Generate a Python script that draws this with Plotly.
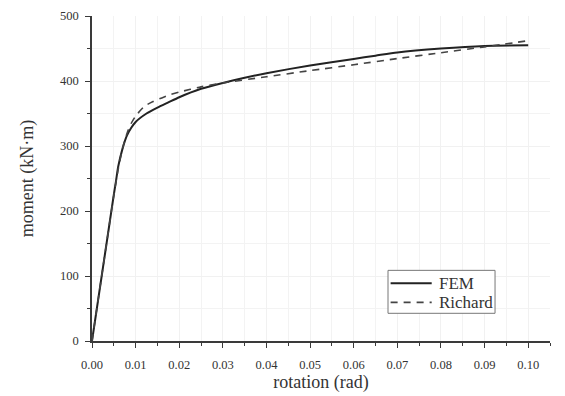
import plotly.graph_objects as go

# FEM curve
fem_rot = [0, 0.001, 0.002, 0.003, 0.004, 0.005, 0.0055, 0.006, 0.007, 0.008, 0.009, 0.010,
           0.0125, 0.015, 0.0175, 0.02, 0.025, 0.03, 0.035, 0.04, 0.05, 0.06, 0.065, 0.07,
           0.08, 0.09, 0.1]
fem_m = [0, 45, 90, 135, 180, 225, 246, 268, 296, 316, 328, 337,
         350, 359, 367, 375, 388, 397, 405, 412, 424, 434, 439, 444,
         450, 454, 455]

# Richard model curve
ric_rot = [0, 0.002, 0.004, 0.005, 0.006, 0.007, 0.008, 0.009, 0.010, 0.012, 0.014, 0.016,
           0.018, 0.02, 0.025, 0.03, 0.04, 0.05, 0.06, 0.07, 0.08, 0.09, 0.1]
ric_m = [0, 90, 180, 224, 264, 296, 319, 335, 346, 361, 368.5, 374,
         379, 383, 391, 397, 406.5, 416, 425, 434.5, 443.5, 452.5, 462]

series_names = ["FEM", "Richard"]

x_ticks = [0.00, 0.01, 0.02, 0.03, 0.04, 0.05, 0.06, 0.07, 0.08, 0.09, 0.10]
y_ticks = [0, 100, 200, 300, 400, 500]

axis_col = "#3a3a3a"
txt_col = "#333333"
font_fam = "Liberation Serif, Times New Roman, serif"
fem_line = dict(color="#222222", width=2)
ric_line = dict(color="#444444", width=1.6, dash="7px,6px")

fig = go.Figure()
fig.add_trace(go.Scatter(x=fem_rot, y=fem_m, mode="lines", name=series_names[0], showlegend=False,
                         line=dict(**fem_line, shape="spline", smoothing=0.6)))
fig.add_trace(go.Scatter(x=ric_rot, y=ric_m, mode="lines", name=series_names[1], showlegend=False,
                         line=dict(**ric_line, shape="spline", smoothing=0.6)))

# legend box drawn in paper coordinates
lg_x0, lg_x1, lg_y0, lg_y1 = 0.6463, 0.880, 0.0852, 0.2174
row_y = [0.1774, 0.119]
shapes = [dict(type="rect", xref="paper", yref="paper", x0=lg_x0, x1=lg_x1, y0=lg_y0, y1=lg_y1,
               line=dict(color="#777777", width=1), fillcolor="white", layer="above")]
annotations = []
for name, ln, ry in zip(series_names, [fem_line, ric_line], row_y):
    shapes.append(dict(type="line", xref="paper", yref="paper", x0=0.652, x1=0.7417, y0=ry, y1=ry,
                       line=ln, layer="above"))
    annotations.append(dict(text=name, xref="paper", yref="paper", x=0.7524, y=ry,
                            xanchor="left", yanchor="middle", showarrow=False,
                            font=dict(family=font_fam, size=17, color=txt_col)))

fig.update_layout(
    width=565, height=396,
    margin=dict(l=84, r=23, t=7.5, b=63.3),
    paper_bgcolor="white", plot_bgcolor="white",
    font=dict(family=font_fam, color=txt_col, size=12.5),
    showlegend=False,
    shapes=shapes, annotations=annotations,
)
fig.update_xaxes(
    range=[0, 0.105], tickvals=x_ticks, tickformat=".2f", automargin=False,
    showline=True, linecolor=axis_col, linewidth=1.5,
    ticks="outside", ticklen=5, tickwidth=1.2, tickcolor=axis_col,
    minor=dict(dtick=0.005, tick0=0, ticks="outside", ticklen=3, tickcolor=axis_col,
               showgrid=True, gridcolor="#f3f3f3"),
    showgrid=True, gridcolor="#f1f1f1", zeroline=False,
    ticklabelstandoff=6,
    tickfont=dict(size=12.5, family=font_fam, color=txt_col),
    title=dict(text="rotation (rad)", font=dict(size=18, family=font_fam, color=txt_col), standoff=4),
)
fig.update_yaxes(
    range=[0, 500], tickvals=y_ticks, automargin=False,
    showline=True, linecolor=axis_col, linewidth=1.5,
    ticks="outside", ticklen=5, tickwidth=1.2, tickcolor=axis_col,
    minor=dict(dtick=50, tick0=0, ticks="outside", ticklen=3, tickcolor=axis_col,
               showgrid=True, gridcolor="#f3f3f3"),
    showgrid=True, gridcolor="#f1f1f1", zeroline=False,
    ticklabelstandoff=4,
    tickfont=dict(size=12.5, family=font_fam, color=txt_col),
    title=dict(text="moment (kN·m)", font=dict(size=18, family=font_fam, color=txt_col), standoff=22),
)

fig.write_html("out.html")
